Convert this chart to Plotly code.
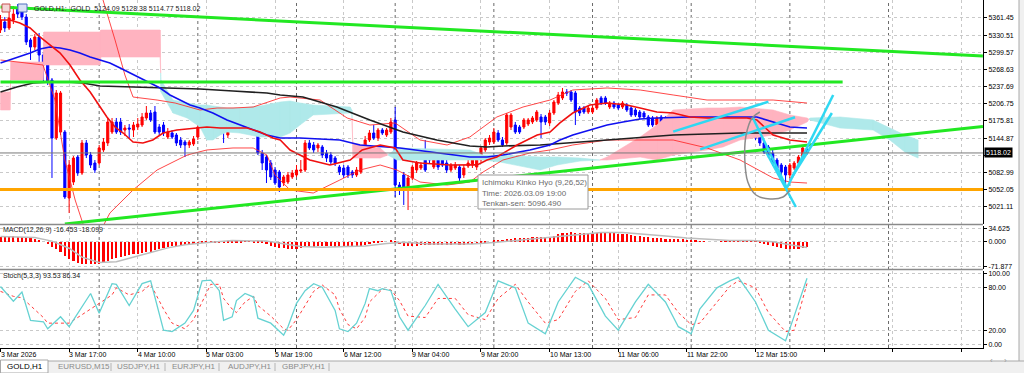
import plotly.graph_objects as go

# ---------------- candles (bar index 0 = 3 Mar 2026 01:00, GOLD H1) ----------------
opens = [5339.8,5354.2,5343.4,5357.8,5379.5,5372.3,5363.2,5321.8,5309.1,5327.2,
 5294.7,5276.7,5249.6,5145.0,5155.8,5155.8,5036.8,5065.6,5110.7,5081.9,
 5136.0,5114.3,5099.9,5099.9,5123.4,5136.0,5155.8,5173.9,5173.9,5159.4,
 5163.0,5159.4,5164.8,5168.4,5181.1,5190.1,5191.9,5164.8,5168.4,5146.8,
 5154.0,5150.4,5141.4,5137.8,5132.4,5134.2,5146.8,5164.8,5173.9,5190.1,
 5186.5,5182.9,5172.1,5150.4,5168.4,5166.6,5166.6,5163.0,5166.6,5168.4,
 5164.8,5117.9,5110.7,5099.9,5087.3,5083.7,5063.8,5065.6,5074.7,5078.3,
 5085.5,5087.3,5136.0,5132.4,5127.0,5128.8,5117.9,5114.3,5108.9,5092.7,
 5090.9,5092.7,5083.7,5078.3,5083.7,5128.8,5141.4,5154.0,5145.0,5159.4,
 5150.4,5155.8,5177.5,5060.2,5078.3,5051.2,5072.9,5087.3,5090.9,5105.3,
 5117.9,5092.7,5105.3,5108.9,5099.9,5087.3,5090.9,5092.7,5078.3,5094.5,
 5096.3,5092.7,5105.3,5123.4,5137.8,5137.8,5154.0,5141.4,5136.0,5164.8,
 5168.4,5164.8,5164.8,5170.2,5173.9,5177.5,5182.9,5182.9,5172.1,5190.1,
 5208.1,5217.2,5228.0,5228.0,5226.2,5199.1,5199.1,5191.9,5191.9,5199.1,
 5217.2,5217.2,5200.9,5208.1,5204.5,5200.9,5204.5,5199.1,5195.5,5191.9,
 5190.1,5182.9,5181.1,5168.4,5182.9,5181.1,5172.1,5173.9,5173.9,5177.5,
 5182.9,5159.4,5136.0,5168.4,5172.1,5150.4,5154.0,5173.9,5164.8,5168.4,
 5177.5,5177.5,5186.5,5177.5,5177.5,5186.5,5159.4,5154.0,5136.0,5128.8,
 5117.9,5105.3,5096.3,5092.7,5078.3,5090.9,5099.9,5110.7,5124.09]
highs = [5366.9,5363.2,5372.3,5383.1,5386.7,5383.1,5368.6,5325.3,5332.6,5334.4,
 5300.1,5285.7,5253.2,5231.6,5229.8,5159.4,5105.3,5112.5,5114.3,5141.4,
 5141.4,5119.8,5105.3,5132.4,5145.0,5181.1,5181.1,5181.1,5181.1,5168.4,
 5170.2,5173.9,5181.1,5190.1,5202.7,5195.5,5202.7,5170.2,5173.9,5163.0,
 5159.4,5154.0,5146.8,5141.4,5141.4,5148.6,5170.2,5181.1,5190.1,5195.5,
 5190.1,5186.5,5175.7,5172.1,5173.9,5170.2,5170.2,5173.9,5172.1,5172.1,
 5168.4,5123.4,5114.3,5105.3,5092.7,5087.3,5078.3,5083.7,5087.3,5096.3,
 5105.3,5141.4,5141.4,5137.8,5136.0,5132.4,5123.4,5119.8,5112.5,5096.3,
 5096.3,5096.3,5087.3,5092.7,5132.4,5148.6,5159.4,5168.4,5163.0,5163.0,
 5163.0,5181.1,5200.9,5065.6,5083.7,5078.3,5096.3,5103.5,5101.7,5141.4,
 5123.4,5108.9,5110.7,5114.3,5105.3,5099.9,5101.7,5096.3,5096.3,5105.3,
 5110.7,5110.7,5130.6,5145.0,5150.4,5163.0,5159.4,5146.8,5190.1,5190.1,
 5173.9,5168.4,5181.1,5181.1,5184.7,5195.5,5188.3,5186.5,5195.5,5213.5,
 5228.0,5235.2,5233.4,5231.6,5229.8,5202.7,5202.7,5202.7,5202.7,5217.2,
 5220.8,5220.8,5211.7,5211.7,5208.1,5211.7,5208.1,5202.7,5199.1,5195.5,
 5193.7,5186.5,5184.7,5184.7,5186.5,5184.7,5181.1,5184.7,5186.5,5186.5,
 5186.5,5163.0,5157.6,5172.1,5175.7,5159.4,5168.4,5177.5,5184.7,5186.5,
 5190.1,5190.1,5190.1,5186.5,5186.5,5190.1,5163.0,5157.6,5139.6,5132.4,
 5123.4,5108.9,5099.9,5096.3,5099.9,5103.5,5114.3,5130.6,5128.38]
lows = [5334.4,5336.2,5339.8,5350.6,5361.4,5357.8,5312.7,5285.7,5303.7,5280.3,
 5244.2,5240.6,5072.9,5141.4,5150.4,5035.0,5009.7,5060.2,5076.7,5078.5,
 5108.9,5090.9,5081.9,5096.3,5119.8,5130.6,5152.2,5152.2,5150.4,5148.6,
 5145.0,5146.8,5159.4,5164.8,5177.5,5173.9,5152.2,5150.4,5148.6,5143.2,
 5143.2,5130.6,5127.0,5110.7,5127.0,5130.6,5141.4,5161.2,5170.2,5170.2,
 5170.2,5166.6,5136.0,5145.0,5159.4,5161.2,5157.6,5159.4,5163.0,5155.8,
 5114.3,5087.3,5063.8,5069.2,5060.2,5047.6,5058.4,5062.0,5071.1,5074.7,
 5081.9,5083.7,5123.4,5117.9,5119.8,5108.9,5101.7,5096.3,5094.5,5078.3,
 5072.9,5072.9,5072.9,5074.7,5080.1,5125.2,5137.8,5141.4,5139.6,5150.4,
 5146.8,5152.2,5038.6,5042.2,5024.2,5015.1,5069.2,5081.9,5087.3,5083.7,
 5099.9,5089.1,5087.3,5092.7,5081.9,5083.7,5087.3,5067.4,5072.9,5090.9,
 5090.9,5087.3,5101.7,5119.8,5132.4,5134.2,5137.8,5128.8,5132.4,5159.4,
 5152.2,5152.2,5161.2,5166.6,5170.2,5173.9,5145.0,5168.4,5166.6,5186.5,
 5204.5,5213.5,5220.8,5209.9,5168.4,5184.7,5188.3,5188.3,5188.3,5195.5,
 5204.5,5204.5,5197.3,5197.3,5195.5,5197.3,5191.9,5182.9,5182.9,5179.3,
 5179.3,5164.8,5164.8,5164.8,5164.8,5168.4,5168.4,5170.2,5170.2,5173.9,
 5134.2,5141.4,5132.4,5146.8,5155.8,5146.8,5150.4,5155.8,5161.2,5164.8,
 5173.9,5173.9,5173.9,5173.9,5173.9,5146.8,5141.4,5130.6,5116.1,5108.9,
 5094.5,5087.3,5078.3,5056.6,5072.9,5087.3,5096.3,5107.1,5114.77]
closes = [5357.8,5343.4,5361.4,5368.6,5368.6,5363.2,5318.2,5309.1,5327.2,5294.7,
 5276.7,5246.0,5145.0,5226.2,5226.2,5038.6,5096.3,5108.9,5081.9,5136.0,
 5114.3,5096.3,5087.3,5127.0,5137.8,5173.9,5173.9,5155.8,5155.8,5163.0,
 5161.2,5168.4,5170.2,5182.9,5190.1,5177.5,5155.8,5155.8,5154.0,5155.8,
 5146.8,5136.0,5132.4,5132.4,5137.8,5143.2,5164.8,5173.9,5186.5,5173.9,
 5177.5,5173.9,5163.0,5168.4,5163.0,5165.7,5163.0,5166.6,5168.4,5159.4,
 5117.9,5099.9,5087.3,5074.7,5063.8,5056.6,5074.7,5078.3,5081.9,5087.3,
 5087.3,5136.0,5127.0,5123.4,5132.4,5114.3,5108.9,5101.7,5099.9,5083.7,
 5078.3,5078.3,5078.3,5087.3,5128.8,5141.4,5154.0,5145.0,5159.4,5154.0,
 5159.4,5173.9,5060.2,5054.8,5051.2,5072.9,5092.7,5099.9,5096.3,5087.3,
 5105.3,5105.3,5092.7,5096.3,5087.3,5096.3,5096.3,5072.9,5090.9,5099.9,
 5105.3,5105.3,5127.0,5141.4,5145.0,5155.8,5141.4,5132.4,5186.5,5186.5,
 5155.8,5155.8,5177.5,5177.5,5181.1,5191.9,5173.9,5173.9,5190.1,5209.9,
 5222.6,5228.0,5226.2,5213.5,5191.9,5190.1,5191.9,5199.1,5199.1,5213.5,
 5208.1,5208.1,5208.1,5200.9,5199.1,5208.1,5195.5,5186.5,5186.5,5182.9,
 5182.9,5168.4,5168.4,5181.1,5168.4,5172.1,5177.5,5181.1,5182.9,5182.9,
 5137.8,5145.0,5154.0,5150.4,5159.4,5155.8,5164.8,5159.4,5181.1,5182.9,
 5186.5,5186.5,5177.5,5182.9,5182.9,5150.4,5145.0,5136.0,5119.8,5114.3,
 5099.9,5090.9,5083.7,5078.3,5096.3,5099.9,5110.7,5127.0,5118.02]
bar_idx = list(range(len(closes)))

# ---------------- indicator lines (bar index, value) ----------------
tenkan_idx = [0,2.2,4.5,6.9,9.2,11.5,13.9,16.2,18.5,20.9,23.2,24.8,26.7,28.6,30.9,33.2,35.5,37.9,41.1,44.9,
              48.1,51.2,57.5,60.5,63.5,65.2,67.5,72.1,76.8,81.5,84.3,88.5,92.0,93.8,97.8,104.8,111.1,113.4,115.7,120.4,
              125.1,128.1,130.4,133.4,137.4,141.4,146.0,149.1,153.0,156.8,160.7,164.7,174.0,176.3,180.1,184.0,188.0]
tenkan_val = [5357.8,5357.8,5352.4,5343.4,5327.2,5312.7,5298.3,5276.7,5249.6,5228.0,5200.9,5182.9,5164.8,5154.0,5137.8,5136.0,5141.4,5154.0,5159.4,5163.0,
              5164.8,5163.0,5163.0,5155.8,5145.0,5141.4,5123.4,5105.3,5096.3,5105.3,5123.4,5132.4,5127.0,5105.3,5099.9,5096.3,5096.49,5105.3,5110.7,5132.4,
              5150.4,5155.8,5172.1,5190.1,5204.5,5208.1,5204.5,5199.1,5191.9,5190.1,5182.9,5181.1,5181.1,5177.5,5150.4,5141.4,5137.8]
kijun_idx = [0,2.2,4.5,6.9,9.2,11.5,13.9,16.2,18.5,20.9,23.2,25.5,27.9,30.2,32.5,34.9,37.2,39.5,41.8,44.2,
             46.5,49.5,52.8,55.8,58.9,62.1,65.2,69.8,79.1,83.8,93.1,101.7,109.4,113.4,117.1,123.4,128.1,130.4,133.4,137.4,
             141.4,145.1,149.1,153.0,160.7,176.3,180.1,184.0,188.0]
kijun_val = [5280.3,5285.7,5291.1,5298.3,5305.5,5309.1,5307.3,5303.7,5298.3,5291.1,5285.7,5280.3,5271.3,5262.2,5253.2,5244.2,5235.2,5222.6,5213.5,5204.5,
             5199.1,5190.1,5177.5,5168.4,5159.4,5150.4,5145.0,5145.0,5141.4,5132.4,5127.0,5117.9,5110.7,5110.7,5114.3,5123.4,5132.4,5141.4,5150.4,5159.4,
             5168.4,5173.9,5179.3,5181.1,5182.9,5182.9,5173.9,5164.8,5163.0]
ma_idx = [0,3.8,7.6,11.5,15.5,19.2,23.2,30.9,38.8,46.5,54.2,62.1,65.2,70.5,78.4,86.1,93.8,101.7,109.4,113.4,117.1,125.8,141.4,156.8,172.4,188.0]
ma_val = [5228.0,5237.0,5244.2,5246.0,5246.0,5244.2,5238.8,5237.0,5235.2,5233.4,5229.8,5226.2,5222.6,5219.0,5200.9,5177.5,5155.8,5141.4,5130.6,5128.8,5130.6,5132.4,5141.4,5150.4,5154.0,5154.0]
bb_up_idx = [22.5,23.9,26.7,29.0,30.9,36.5,40.7,46.5,50.5,54.2,58.9,62.1,65.2,67.5,74.5,80.8,86.1,92.0,97.8,104.1,
             109.4,115.7,121.8,128.1,133.4,141.4,149.1,156.8,164.7,172.4,180.1,188.0]
bb_up_val = [5411.9,5393.9,5321.8,5258.6,5218.9,5213.5,5208.1,5195.5,5199.1,5199.1,5200.9,5209.9,5217.2,5218.9,5213.5,5181.1,5168.4,5172.1,5141.4,5132.4,
             5146.8,5182.9,5200.9,5213.5,5231.6,5235.2,5231.6,5222.6,5213.5,5213.5,5213.5,5208.1]
bb_lo_idx = [0,4.5,9.9,12.7,15.0,17.4,19.7,23.2,25.5,30.9,36.5,43.5,48.1,54.2,58.9,62.1,64.0,67.5,72.9,79.1,
             83.8,88.5,92.4,97.8,104.1,109.4,112.5,117.1,123.4,128.1,133.4,141.4,149.1,156.8,164.7,172.4,180.1,184.0,188.0]
bb_lo_val = [5285.7,5282.1,5276.7,5213.5,5105.3,5033.2,4979.1,4975.5,5009.7,5051.2,5087.3,5114.3,5123.4,5127.0,5127.0,5114.3,5078.3,5051.2,5045.8,5069.2,
             5087.3,5096.3,5087.3,5065.6,5060.2,5065.6,5083.7,5105.3,5117.9,5123.4,5132.4,5141.4,5141.4,5141.4,5127.0,5105.3,5072.9,5065.6,5063.8]
cloud_idx = [0,2.2,2.45,9.9,10.1,23.2,23.4,37.2,37.4,40.2,43.5,46.5,48.1,49.5,51.2,52.8,55.8,60.5,65.2,67.5,
             69.8,72.9,81.5,81.9,82.2,88.5,90.3,92.4,109.4,112.5,116.4,125.8,129.7,135.1,139.7,141.4,149.1,153.0,156.8,164.7,
             168.4,172.4,180.1,184.0,188.0,188.7,195.7,203.4,207.3,210.8,213.9]
senkou_a = [5195.5,5195.5,5249.6,5249.6,5276.7,5276.7,5291.1,5291.1,5249.6,5213.5,
            5208.1,5204.5,5204.5,5202.7,5200.9,5199.1,5199.1,5202.7,5209.9,5211.7,
            5208.1,5204.5,5200.9,5195.5,5108.9,5108.9,5114.3,5127.0,5123.4,5114.3,
            5114.3,5110.7,5110.7,5108.9,5105.3,5105.3,5110.7,5105.3,5114.3,5123.4,
            5128.8,5141.4,5150.4,5159.4,5173.9,5181.1,5182.9,5177.5,5163.0,5150.4,
            5141.4]
senkou_b = [5228.0,5228.0,5282.1,5282.1,5336.2,5336.2,5339.8,5339.8,5228.0,5190.1,
            5181.1,5164.8,5141.4,5141.4,5150.4,5155.8,5154.0,5146.8,5146.8,5154.0,
            5168.4,5186.5,5190.1,5190.1,5136.0,5127.0,5114.3,5105.3,5105.3,5105.3,
            5101.7,5087.3,5096.3,5103.5,5105.3,5110.7,5146.8,5168.4,5195.5,5199.1,
            5199.1,5200.9,5195.5,5186.5,5181.1,5177.5,5163.0,5159.4,5141.4,5119.8,
            5108.9]

# MACD(12,26,9): histogram per bar, signal line points
macd_hist = [14,15,15,15,14,13,12,10,8,4,
 0,-6,-14,-20,-28,-39,-48,-55,-59,-62,
 -64,-64,-64,-62,-58,-54,-50,-46,-42,-39,
 -37,-35,-34,-32,-30,-28,-24,-20,-17,-15,
 -13,-12,-11,-10,-9,-8,-7,-5,-4,-3,
 -3,-2,-2,-2,-2,-2,-2,-1,-1,-2,
 -3,-5,-8,-11,-14,-17,-19,-20,-20,-20,
 -19,-16,-15,-14,-13,-13,-13,-13,-14,-15,
 -15,-16,-16,-15,-12,-9,-6,-4,-2,-1,
 0,2,-3,-7,-11,-12,-12,-11,-10,-10,
 -9,-9,-9,-9,-9,-9,-8,-9,-9,-8,
 -7,-6,-4,-2,0,2,3,3,6,8,
 9,9,10,11,12,13,13,13,14,17,
 20,23,25,26,25,25,24,24,24,25,
 25,25,24,23,22,21,20,18,17,15,
 14,12,10,10,9,8,8,8,8,8,
 5,3,2,1,1,0,0,0,1,2,
 2,3,3,3,3,1,-1,-3,-6,-9,
 -12,-15,-18,-21,-22,-22,-21,-19,-16.453]
macd_sig_idx = [0,8,12,16,19,23,27,31,35,39,43,47,54,62,66,70,75,80,85,90,94,100,110,115,120,125,130,135,140,145,150,155,160,165,170,175,180,184,188]
macd_sig_val = [13,10,0,-20,-45,-60,-58,-46,-32,-19,-10,-5,2,0,-8,-15,-17,-15,-14,-7,-3,-8,-8,-4,2,8,13,20,24,24,20,14,9,5,2,2,-2,-10,-18.099]

# Stochastic(5,3,3)
stoch_idx = [0,3,5,7,10,11,14,16,21,23,26,27,30,33,35,38,40,43,45,47,49,51,52,54,55,57,59,60,63,66,67,69,71,73,75,78,79,81,83,85,
             86,88,89,91,93,95,99,102,106,109,113,116,120,123,127,130,134,137,141,144,148,151,155,158,161,163,167,170,172,176,179,183,185,188]
stoch_main = [82,61,74,34,32,22,39,25,72,44,86,85,55,86,90,20,18,30,48,90,91,76,34,39,62,72,67,37,30,13,25,58,76,86,81,48,22,18,30,58,
              79,76,79,76,39,20,55,85,50,25,45,90,80,30,15,60,95,85,40,20,60,85,60,25,15,50,80,90,95,60,20,5,40,93.53]
stoch_signal = [75,68,66,55,38,30,30,30,50,58,70,80,70,75,85,50,30,22,35,60,85,85,65,50,45,60,68,55,40,22,20,35,55,75,84,70,50,28,22,38,
                60,72,78,77,62,40,38,65,65,42,35,65,85,60,30,35,75,90,65,35,38,70,70,45,28,30,60,82,90,80,45,18,20,86.34]

# drawn objects (bar index, price)
green_lines = [([0, 229], [5381.3, 5292.9]), ([0, 196.3], [5246.0, 5246.0]), ([15.0, 229], [4989.9, 5165.9])]
orange_level = 5052.05
cyan_lines = [([156.8, 179.0], [5156.4, 5210.5]), ([163.1, 185.2], [5124.6, 5182.4]),
              ([175.4, 183.3], [5181.1, 5054.8]), ([178.2, 185.4], [5123.4, 5020.6]),
              ([183.3, 194.1], [5054.8, 5222.6]), ([184.5, 193.8], [5074.7, 5190.1])]
loop_idx = [177.0, 175.2, 173.8, 173.5, 174.2, 176.1, 179.4, 182.4, 184.0]
loop_val = [5191.9, 5181.1, 5150.4, 5105.3, 5065.6, 5042.2, 5035.0, 5038.6, 5051.2]

last_price = 5118.02
tooltip_bar = 36  # index into tenkan arrays for the hovered point (9 Mar 19:00)
price_ticks = [5361.45, 5330.51, 5299.57, 5268.63, 5237.69, 5206.75, 5175.81, 5144.87, 5113.93, 5082.99, 5052.05, 5021.11]
date_idx = [0, 16, 32, 48, 64, 80, 96, 112, 128, 144, 160, 176]
date_labels = ["3 Mar 2026", "3 Mar 17:00", "4 Mar 10:00", "5 Mar 03:00", "5 Mar 19:00", "6 Mar 12:00",
               "9 Mar 04:00", "9 Mar 20:00", "10 Mar 13:00", "11 Mar 06:00", "11 Mar 22:00", "12 Mar 15:00"]
separator_idx = [23, 46, 69, 92, 115, 138, 161, 184, 207]
tabs = ["GOLD,H1", "EURUSD,M15", "USDJPY,H1", "EURJPY,H1", "AUDJPY,H1", "GBPJPY,H1"]

# ---------------- geometry / styles ----------------
FONT = "Liberation Sans, Arial, sans-serif"
PLOT_W, PLOT_H = 983, 348
BAR_PX, BAR0_PX = 4.29, 0.5
X_RANGE = [-BAR0_PX / BAR_PX, (PLOT_W - BAR0_PX) / BAR_PX]
GRID = "#c9c9c9"


def px_x(px):
    return px / PLOT_W


def px_y(py):
    return (PLOT_H - py) / PLOT_H


fig = go.Figure()


def cloud_polys(xs, a, b):
    out = {1: ([], []), -1: ([], [])}
    for k in range(len(xs) - 1):
        x0, x1 = xs[k], xs[k + 1]
        a0, a1, b0, b1 = a[k], a[k + 1], b[k], b[k + 1]
        d0, d1 = b0 - a0, b1 - a1
        if d0 * d1 < 0:
            t = d0 / (d0 - d1)
            xm = x0 + t * (x1 - x0)
            ym = a0 + t * (a1 - a0)
            parts = [(x0, xm, a0, ym, b0, ym, d0), (xm, x1, ym, a1, ym, b1, d1)]
        else:
            parts = [(x0, x1, a0, a1, b0, b1, d0 if d0 != 0 else d1)]
        for xa, xb, aa, ab, ba, bb, d in parts:
            key = 1 if d > 0 else -1
            out[key][0].extend([xa, xb, xb, xa, xa, None])
            out[key][1].extend([aa, ab, bb, ba, aa, None])
    return out


polys = cloud_polys(cloud_idx, senkou_a, senkou_b)
for key, col in ((1, "#FFB3C0"), (-1, "#AFE9EA")):
    fig.add_trace(go.Scatter(x=polys[key][0], y=polys[key][1], mode="lines", fill="toself",
                             fillcolor=col, line=dict(color=col, width=0.6), hoverinfo="skip",
                             xaxis="x", yaxis="y"))

thin_red = "rgba(255,40,40,0.85)"
fig.add_trace(go.Scatter(x=bb_up_idx, y=bb_up_val, mode="lines", line=dict(color=thin_red, width=1), hoverinfo="skip"))
fig.add_trace(go.Scatter(x=bb_lo_idx, y=bb_lo_val, mode="lines", line=dict(color=thin_red, width=1), hoverinfo="skip"))
fig.add_trace(go.Scatter(x=ma_idx, y=ma_val, mode="lines", line=dict(color="#202020", width=1.6), hoverinfo="skip"))
fig.add_trace(go.Scatter(x=kijun_idx, y=kijun_val, mode="lines", line=dict(color="#1010F0", width=1.6), hoverinfo="skip"))
fig.add_trace(go.Scatter(x=tenkan_idx, y=tenkan_val, mode="lines", line=dict(color="#F01010", width=1.6), hoverinfo="skip"))

fig.add_trace(go.Candlestick(x=bar_idx, open=opens, high=highs, low=lows, close=closes,
                             increasing=dict(line=dict(color="#FF0000", width=1), fillcolor="#FF0000"),
                             decreasing=dict(line=dict(color="#0000FF", width=1), fillcolor="#0000FF"),
                             whiskerwidth=0, hoverinfo="skip", xaxis="x", yaxis="y"))

for xs, ys in green_lines:
    fig.add_trace(go.Scatter(x=xs, y=ys, mode="lines", line=dict(color="#22E822", width=3), hoverinfo="skip"))
fig.add_trace(go.Scatter(x=X_RANGE, y=[orange_level, orange_level], mode="lines",
                         line=dict(color="#FFA500", width=3), hoverinfo="skip"))
for xs, ys in cyan_lines:
    fig.add_trace(go.Scatter(x=xs, y=ys, mode="lines", line=dict(color="#2ED8F2", width=2.5), hoverinfo="skip"))
fig.add_trace(go.Scatter(x=loop_idx, y=loop_val, mode="lines", line=dict(color="#8c8c8c", width=1.5, shape="spline"),
                         hoverinfo="skip"))

# MACD panel
fig.add_trace(go.Bar(x=bar_idx, y=macd_hist, width=0.5, marker=dict(color="#FF0000", line=dict(width=0)),
                     hoverinfo="skip", xaxis="x2", yaxis="y2"))
fig.add_trace(go.Scatter(x=macd_sig_idx, y=macd_sig_val, mode="lines", line=dict(color="#BDBDBD", width=1.5),
                         hoverinfo="skip", xaxis="x2", yaxis="y2"))

# Stochastic panel
fig.add_trace(go.Scatter(x=stoch_idx, y=stoch_signal, mode="lines", line=dict(color="#FF3B3B", width=1, dash="dot"),
                         hoverinfo="skip", xaxis="x3", yaxis="y3"))
fig.add_trace(go.Scatter(x=stoch_idx, y=stoch_main, mode="lines", line=dict(color="#66D2D2", width=1.3),
                         hoverinfo="skip", xaxis="x3", yaxis="y3"))

grid_idx = list(range(0, 230, 16))
common_x = dict(range=X_RANGE, showgrid=True, gridcolor=GRID, griddash="dot", gridwidth=1, tickvals=grid_idx,
                showticklabels=False, zeroline=False, fixedrange=True)
tickfont = dict(family=FONT, size=7, color="#000000")
common_y = dict(side="right", ticks="outside", ticklen=3, tickcolor="#000000", showgrid=True, gridcolor=GRID,
                griddash="dot", zeroline=False, showline=True, linecolor="#000000", linewidth=1,
                tickfont=tickfont, fixedrange=True)

price_text = ["" if abs(v - 5113.93) < 1e-6 else f"{v:.2f}" for v in price_ticks]

fig.update_layout(
    width=1024, height=373, autosize=False,
    margin=dict(l=0, r=41, t=0, b=25),
    paper_bgcolor="#FFFFFF", plot_bgcolor="#FFFFFF",
    showlegend=False, hovermode=False, dragmode=False, bargap=0,
    xaxis=dict(**common_x, domain=[0, 1], anchor="y", rangeslider=dict(visible=False), showline=False),
    xaxis2=dict(**common_x, anchor="y2", matches="x", showline=False),
    xaxis3=dict(**common_x, anchor="y3", matches="x", ticks="outside", ticklen=3, tickcolor="#000000",
                showline=True, linecolor="#000000", linewidth=1),
    yaxis=dict(**common_y, domain=[px_y(224), 1], range=[4989.9, 5393.9], tickvals=price_ticks, ticktext=price_text),
    yaxis2=dict(**common_y, domain=[px_y(269), px_y(225.5)], range=[-78.3, 43.8],
                tickvals=[34.625, 0, -71.877], ticktext=["34.625", "0.000", "-71.877"]),
    yaxis3=dict(**common_y, domain=[0, px_y(270.5)], range=[-5.2, 104.6],
                tickvals=[100, 80, 20, 0], ticktext=["100.00", "80.00", "20.00", "0.00"]),
    font=dict(family=FONT, size=7, color="#000000"),
)

shapes = []
for i in separator_idx:
    shapes.append(dict(type="line", xref="x", yref="paper", x0=i, x1=i, y0=0, y1=1, layer="below",
                       line=dict(color="#6a6a6a", width=1, dash="dot")))
for py in (224.5, 269.5):
    shapes.append(dict(type="line", xref="paper", yref="paper", x0=0, x1=1, y0=px_y(py), y1=px_y(py),
                       line=dict(color="#8a8a8a", width=1.5)))
shapes.append(dict(type="line", xref="paper", yref="y", x0=0, x1=1, y0=last_price, y1=last_price,
                   line=dict(color="#7a7a7a", width=1)))
# small window icons next to the title
shapes.append(dict(type="rect", xref="paper", yref="paper", x0=px_x(2), x1=px_x(10), y0=px_y(12), y1=px_y(4),
                   fillcolor="#F3D6D6", line=dict(color="#C85050", width=1)))
shapes.append(dict(type="rect", xref="paper", yref="paper", x0=px_x(18), x1=px_x(27), y0=px_y(12), y1=px_y(4),
                   fillcolor="#D8E0F5", line=dict(color="#5070C0", width=1)))
# right window strip
shapes.append(dict(type="rect", xref="paper", yref="paper", x0=px_x(1019), x1=px_x(1024), y0=px_y(361), y1=px_y(0),
                   fillcolor="#F0F0F0", line=dict(width=0)))
shapes.append(dict(type="line", xref="paper", yref="paper", x0=px_x(1019), x1=px_x(1019), y0=px_y(361), y1=px_y(0),
                   line=dict(color="#A8A8A8", width=1)))
# tab bar
shapes.append(dict(type="rect", xref="paper", yref="paper", x0=0, x1=px_x(1024), y0=px_y(373), y1=px_y(361),
                   fillcolor="#F0F0F0", line=dict(width=0)))
shapes.append(dict(type="line", xref="paper", yref="paper", x0=px_x(48), x1=px_x(1024), y0=px_y(361), y1=px_y(361),
                   line=dict(color="#A8A8A8", width=1)))
shapes.append(dict(type="rect", xref="paper", yref="paper", x0=px_x(0.5), x1=px_x(48), y0=px_y(373), y1=px_y(360),
                   fillcolor="#FFFFFF", line=dict(color="#A8A8A8", width=1)))
for sx in (111, 165, 219, 275, 329):
    shapes.append(dict(type="line", xref="paper", yref="paper", x0=px_x(sx), x1=px_x(sx), y0=px_y(371), y1=px_y(363),
                       line=dict(color="#B4B4B4", width=1)))
# tooltip box
shapes.append(dict(type="rect", xref="paper", yref="paper", x0=px_x(478), x1=px_x(588), y0=px_y(209), y1=px_y(175),
                   fillcolor="#FFFFFF", line=dict(color="#9a9a9a", width=1)))
fig.update_layout(shapes=shapes)

ann = []
for i, t in zip(date_idx, date_labels):
    ann.append(dict(x=i, xref="x", y=px_y(354), yref="paper", text=t, showarrow=False, xanchor="left",
                    yanchor="middle", xshift=-2, font=dict(family=FONT, size=7, color="#000000")))
ann.append(dict(x=1, xref="paper", y=last_price, yref="y", text=f"{last_price:.2f}", showarrow=False,
                xanchor="left", yanchor="middle", xshift=1, bgcolor="#000000", borderpad=1,
                font=dict(family=FONT, size=7, color="#FFFFFF")))
ann.append(dict(x=px_x(32), xref="paper", y=px_y(9), yref="paper", showarrow=False, xanchor="left", yanchor="middle",
                text=f"GOLD,H1:  GOLD  {opens[-1]:.2f} {highs[-1]:.2f} {lows[-1]:.2f} {closes[-1]:.2f}",
                font=dict(family=FONT, size=7, color="#202020")))
ann.append(dict(x=px_x(1), xref="paper", y=px_y(230), yref="paper", showarrow=False, xanchor="left", yanchor="middle",
                text=f"MACD(12,26,9) {macd_hist[-1]:.3f} {macd_sig_val[-1]:.3f}",
                font=dict(family=FONT, size=7, color="#202020")))
ann.append(dict(x=px_x(1), xref="paper", y=px_y(275.5), yref="paper", showarrow=False, xanchor="left", yanchor="middle",
                text=f"Stoch(5,3,3) {stoch_main[-1]:.2f} {stoch_signal[-1]:.2f}",
                font=dict(family=FONT, size=7, color="#202020")))
for txt, py in (("Ichimoku Kinko Hyo (9,26,52)", 182.5), ("Time: 2026.03.09 19:00", 193),
                (f"Tenkan-sen: {tenkan_val[tooltip_bar]:.3f}", 203.5)):
    ann.append(dict(x=px_x(480), xref="paper", y=px_y(py), yref="paper", text=txt, showarrow=False,
                    xanchor="left", yanchor="middle", font=dict(family=FONT, size=8, color="#6a6a6a")))
for t, cx in zip(tabs, (25, 83.5, 139, 194, 250, 303.5)):
    ann.append(dict(x=px_x(cx), xref="paper", y=px_y(367), yref="paper", text=t, showarrow=False,
                    xanchor="center", yanchor="middle",
                    font=dict(family=FONT, size=8, color="#000000" if t == "GOLD,H1" else "#8a8a8a")))
for t, cx in (("‹", 995), ("›", 1009)):
    ann.append(dict(x=px_x(cx), xref="paper", y=px_y(367), yref="paper", text=t, showarrow=False,
                    font=dict(family=FONT, size=8, color="#9a9a9a")))
fig.update_layout(annotations=ann)

fig.write_html("out.html", config={"displayModeBar": False},
               post_script="document.body.style.margin='0px';document.body.style.overflow='hidden';")
